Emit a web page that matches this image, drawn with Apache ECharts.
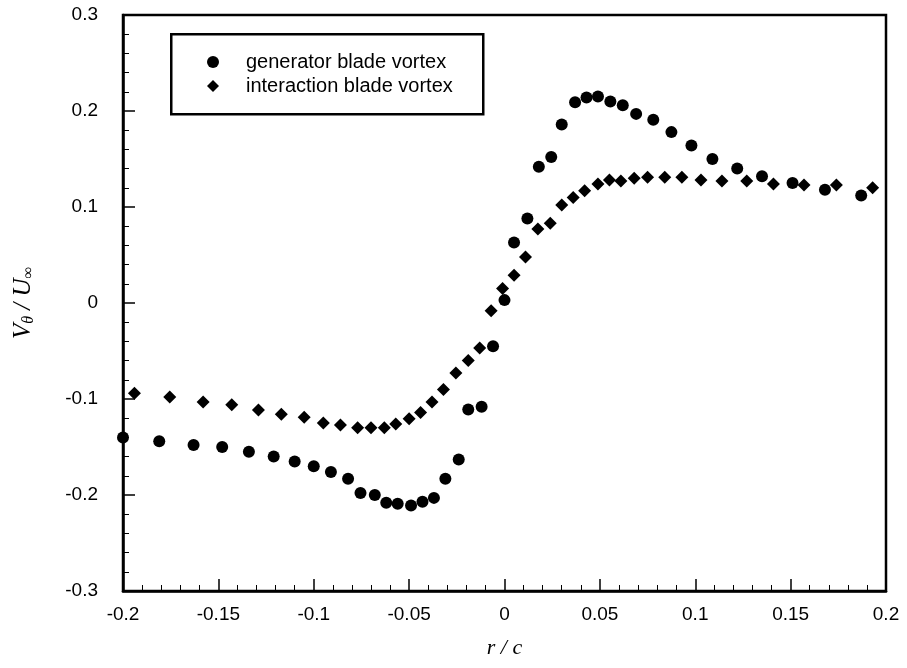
<!DOCTYPE html>
<html>
<head>
<meta charset="utf-8">
<script src="https://cdn.jsdelivr.net/npm/echarts@6/dist/echarts.min.js"></script>
<style>html,body{margin:0;padding:0;background:#fff}#c{width:907px;height:668px}</style>
</head>
<body>
<div id="c"></div>
<script>
const seriesNames = ['generator blade vortex', 'interaction blade vortex'];
const xTicks = [-0.2, -0.15, -0.1, -0.05, 0, 0.05, 0.1, 0.15, 0.2];
const yTicks = [-0.3, -0.2, -0.1, 0, 0.1, 0.2, 0.3];

const genX = [-0.200,-0.181,-0.163,-0.148,-0.134,-0.121,-0.110,-0.100,-0.091,-0.082,-0.0755,-0.068,-0.062,-0.056,-0.049,-0.043,-0.037,-0.031,-0.024,-0.019,-0.012,-0.006,0.000,0.005,0.012,0.018,0.0245,0.030,0.037,0.043,0.049,0.0555,0.062,0.069,0.078,0.0875,0.098,0.109,0.122,0.135,0.151,0.168,0.187];
const genY = [-0.140,-0.144,-0.148,-0.150,-0.155,-0.160,-0.165,-0.170,-0.176,-0.183,-0.198,-0.200,-0.208,-0.209,-0.211,-0.207,-0.203,-0.183,-0.163,-0.111,-0.108,-0.045,0.003,0.063,0.088,0.142,0.152,0.186,0.209,0.214,0.215,0.210,0.206,0.197,0.191,0.178,0.164,0.150,0.140,0.132,0.125,0.118,0.112];

const intX = [-0.194,-0.1755,-0.158,-0.143,-0.129,-0.117,-0.105,-0.095,-0.086,-0.077,-0.070,-0.063,-0.057,-0.050,-0.044,-0.038,-0.032,-0.0255,-0.019,-0.013,-0.007,-0.001,0.005,0.011,0.0175,0.024,0.030,0.036,0.042,0.049,0.055,0.061,0.068,0.075,0.084,0.093,0.103,0.114,0.127,0.141,0.157,0.174,0.193];
const intY = [-0.094,-0.098,-0.103,-0.106,-0.1115,-0.116,-0.119,-0.125,-0.127,-0.130,-0.130,-0.130,-0.126,-0.1205,-0.114,-0.103,-0.090,-0.073,-0.060,-0.047,-0.008,0.015,0.029,0.048,0.077,0.083,0.102,0.110,0.117,0.124,0.128,0.127,0.130,0.131,0.131,0.131,0.128,0.127,0.127,0.124,0.123,0.123,0.120];

const genData = genX.map((x, i) => [x, genY[i]]);
const intData = intX.map((x, i) => [x, intY[i]]);

const chart = echarts.init(document.getElementById('c'), null, {renderer: 'canvas'});
const fmt = v => String(Math.round(v * 100) / 100);
chart.setOption({
  animation: false,
  backgroundColor: '#fff',
  grid: {left: 123, right: 21, top: 15, bottom: 77, show: true, borderColor: '#000', borderWidth: 2.5, backgroundColor: 'transparent'},
  graphic: [{
    type: 'rect', left: 170, top: 33, shape: {width: 312, height: 80},
    style: {fill: '#fff', stroke: '#000', lineWidth: 2.5}, z: 50
  }],
  legend: {
    left: 202, top: 47, orient: 'vertical', itemWidth: 12, itemHeight: 12, itemGap: 4, z: 60,
    textStyle: {fontFamily: 'Liberation Sans, Arial, sans-serif', fontSize: 20, color: '#000', lineHeight: 20, padding: [0, 0, 0, 22]},
    itemStyle: {opacity: 1},
    data: [{name: seriesNames[0], icon: 'circle'}, {name: seriesNames[1], icon: 'diamond'}]
  },
  xAxis: {
    type: 'value', min: xTicks[0], max: xTicks[xTicks.length - 1], interval: 0.05,
    name: 'r / c', nameLocation: 'middle', nameGap: 46,
    nameTextStyle: {fontFamily: 'Liberation Serif, Times New Roman, serif', fontStyle: 'italic', fontSize: 22, color: '#000'},
    axisLine: {show: true, onZero: false, lineStyle: {color: '#000', width: 2.5}},
    axisTick: {show: true, inside: true, length: 12, lineStyle: {color: '#000', width: 1.5}},
    minorTick: {show: true, splitNumber: 5, length: 6, lineStyle: {color: '#000', width: 1}},
    splitLine: {show: false},
    axisLabel: {margin: 14, fontFamily: 'Liberation Sans, Arial, sans-serif', fontSize: 19, color: '#000', formatter: fmt, showMinLabel: true, showMaxLabel: true}
  },
  yAxis: {
    type: 'value', min: yTicks[0], max: yTicks[yTicks.length - 1], interval: 0.1,
    name: '{v|V}{s|θ}{v| / U}{s|∞}', nameLocation: 'middle', nameGap: 86, nameRotate: 90,
    nameTextStyle: {
      color: '#000',
      rich: {
        v: {fontFamily: 'Liberation Serif, Times New Roman, serif', fontStyle: 'italic', fontSize: 25, color: '#000'},
        s: {fontFamily: 'Liberation Serif, Times New Roman, serif', fontStyle: 'italic', fontSize: 16, color: '#000', padding: [12, 0, 0, 0]}
      }
    },
    axisLine: {show: true, onZero: false, lineStyle: {color: '#000', width: 2.5}},
    axisTick: {show: true, inside: true, length: 12, lineStyle: {color: '#000', width: 1.5}},
    minorTick: {show: true, splitNumber: 5, length: 6, lineStyle: {color: '#000', width: 1}},
    splitLine: {show: false},
    axisLabel: {margin: 25, fontFamily: 'Liberation Sans, Arial, sans-serif', fontSize: 19, color: '#000', formatter: fmt}
  },
  series: [
    {name: seriesNames[0], type: 'scatter', symbol: 'circle', symbolSize: 12, itemStyle: {color: '#000', opacity: 1}, data: genData},
    {name: seriesNames[1], type: 'scatter', symbol: 'diamond', symbolSize: 13, itemStyle: {color: '#000', opacity: 1}, data: intData}
  ]
});
</script>
</body>
</html>
